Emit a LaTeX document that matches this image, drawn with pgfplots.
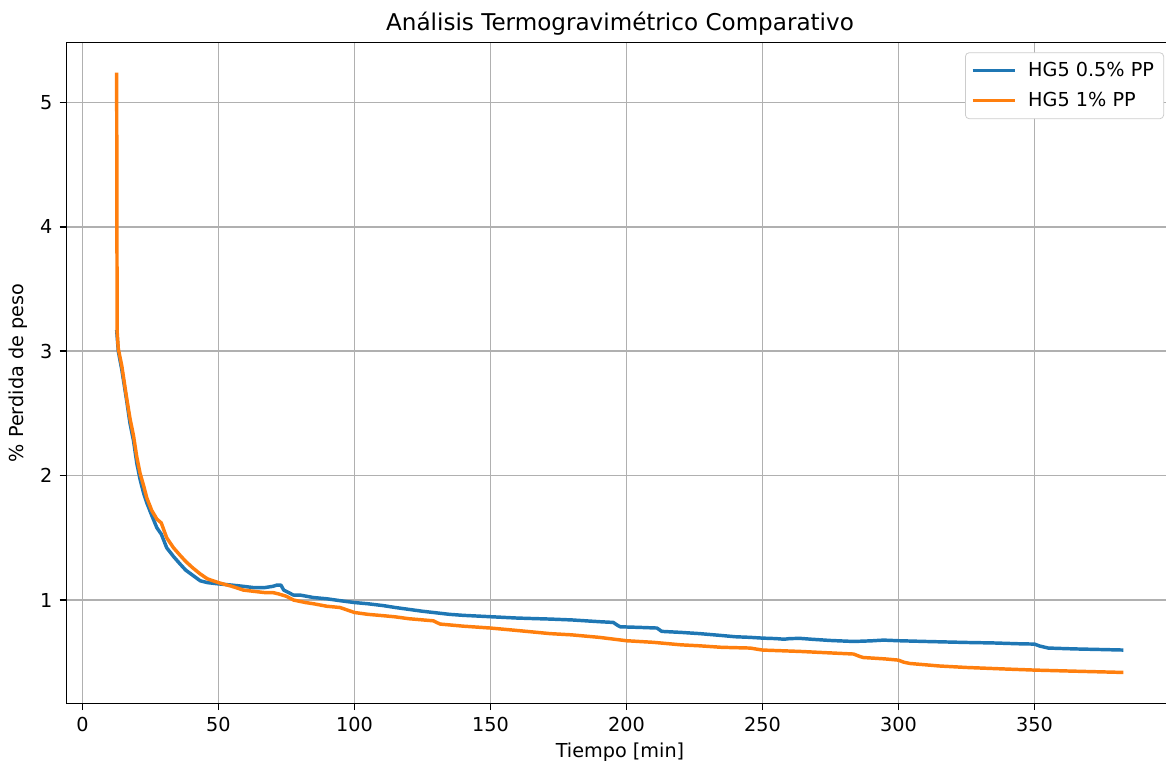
\documentclass[border=0pt]{standalone}
\usepackage{fontspec}
\setmainfont{DejaVu Sans}
\usepackage{pgfplots}
\pgfplotsset{compat=1.18}
\definecolor{mplblue}{HTML}{1F77B4}
\definecolor{mplorange}{HTML}{FF7F0E}
\definecolor{gridgray}{HTML}{B0B0B0}
\begin{document}
\begin{tikzpicture}
\begin{axis}[
  scale only axis,
  width=575.8pt, height=343.5pt,
  xmin=-5.9, xmax=401.2,
  ymin=0.17, ymax=5.48,
  xtick={0,50,100,150,200,250,300,350},
  ytick={1,2,3,4,5},
  xtick pos=bottom, ytick pos=left,
  tick align=outside,
  major tick length=3.5pt,
  every tick/.style={black, line width=0.8pt},
  axis line style={line width=0.8pt},
  grid=major,
  major grid style={gridgray, line width=0.8pt},
  /pgf/number format/assume math mode=true,
  tick label style={font=\fontsize{10}{12}\selectfont},
  xticklabel style={anchor=base, inner sep=0pt, yshift=-11.4pt},
  yticklabel style={anchor=east, inner sep=0pt, xshift=-3.6pt},
  title={Análisis Termogravimétrico Comparativo},
  title style={font=\fontsize{12}{14}\selectfont, at={(rel axis cs:0.5,1)}, anchor=base, yshift=0.4pt, inner sep=0pt},
  xlabel={Tiempo [min]},
  xlabel style={font=\fontsize{10}{12}\selectfont, at={(rel axis cs:0.5,0)}, anchor=base, yshift=-28.4pt, inner sep=0pt},
  ylabel={\% Perdida de peso},
  ylabel style={font=\fontsize{10}{12}\selectfont, at={(rel axis cs:0,0.5)}, anchor=center, yshift=25pt, inner sep=0pt},
  legend style={at={(rel axis cs:1,1)}, anchor=north east, xshift=-5pt, yshift=-5pt,
    draw={rgb,255:red,204;green,204;blue,204}, rounded corners=2pt, fill=white,
    font=\fontsize{10}{12}\selectfont, inner xsep=3pt, inner ysep=3pt, row sep=2.5pt},
  legend cell align=left,
  legend image code/.code={\draw[#1, line width=1.5pt] (0pt,0pt) -- (22pt,0pt); \path (26pt,0pt);},
]
\addplot[mplblue, line width=1.8pt, line join=round] coordinates {
(12.6,3.17) (13.2,3.00) (14.5,2.85) (16.3,2.60) (17.5,2.42) (18.8,2.28)
(20.0,2.10) (21.2,1.97) (22.5,1.86) (23.7,1.78) (25.5,1.68) (27.4,1.58)
(29.0,1.53) (31.0,1.42) (33.5,1.35) (35.9,1.29) (38.0,1.24) (40.5,1.20)
(43.3,1.155) (46.0,1.14) (50.0,1.13) (55.0,1.12) (59.2,1.11) (63.0,1.10)
(67.0,1.10) (70.0,1.11) (71.5,1.12) (73.0,1.12) (74.0,1.08) (77.6,1.04)
(80.0,1.04) (85.0,1.02) (89.9,1.01) (94.7,0.995) (100,0.98) (105,0.97)
(110.7,0.955) (115,0.94) (120,0.925) (125,0.91) (129,0.90) (135,0.885)
(140,0.877) (150,0.866) (160,0.855) (172,0.847) (180,0.84) (190,0.826)
(195.2,0.82) (196.5,0.80) (197.7,0.785) (205,0.78) (211.2,0.775) (213,0.748)
(220,0.74) (227,0.73) (235,0.715) (240,0.705) (245.5,0.70) (250,0.694)
(255,0.69) (258,0.685) (260,0.69) (263.8,0.692) (268,0.685) (275,0.675)
(283.5,0.667) (290,0.672) (294.5,0.678) (300,0.673) (310,0.667) (325,0.659)
(335,0.655) (345,0.648) (350,0.646) (352,0.63) (355.1,0.614) (365,0.607)
(375,0.602) (382.7,0.598)
};
\addlegendentry{HG5 0.5\% PP}
\addplot[mplorange, line width=1.8pt, line join=round] coordinates {
(12.6,5.24) (12.7,3.9) (12.8,3.15) (13.2,3.02) (14.5,2.88) (16.3,2.62)
(17.5,2.46) (18.8,2.32) (20.0,2.15) (21.2,2.02) (22.5,1.92) (23.7,1.82)
(25.5,1.72) (27.4,1.65) (29.0,1.62) (31.0,1.50) (33.5,1.42) (35.9,1.36)
(38.0,1.31) (40.5,1.26) (43.3,1.21) (46.0,1.17) (50.0,1.14) (55.0,1.11)
(59.2,1.08) (63.0,1.07) (67.0,1.06) (70.0,1.06) (72.0,1.05) (75.0,1.03)
(77.6,1.00) (82.0,0.98) (85.0,0.97) (89.9,0.95) (94.7,0.94) (100,0.90)
(105,0.885) (110.7,0.874) (115,0.865) (120,0.85) (129,0.833) (131.5,0.807)
(140,0.79) (150,0.775) (160,0.755) (172,0.73) (180,0.72) (190,0.70)
(195.2,0.686) (200,0.673) (210,0.66) (220,0.64) (227,0.632) (235,0.62)
(245.5,0.614) (250,0.598) (263.8,0.587) (275,0.575) (283.5,0.566) (286,0.545)
(287.1,0.538) (295,0.527) (300,0.517) (302,0.50) (304.3,0.49) (315,0.47)
(325,0.458) (340,0.445) (350,0.437) (365,0.428) (382.7,0.418)
};
\addlegendentry{HG5 1\% PP}
\end{axis}
\pgfresetboundingbox
\useasboundingbox ([xshift=-34.5pt,yshift=-32.1pt]current axis.south west) rectangle ([xshift=-4pt,yshift=22.2pt]current axis.north east);
\end{tikzpicture}
\end{document}
